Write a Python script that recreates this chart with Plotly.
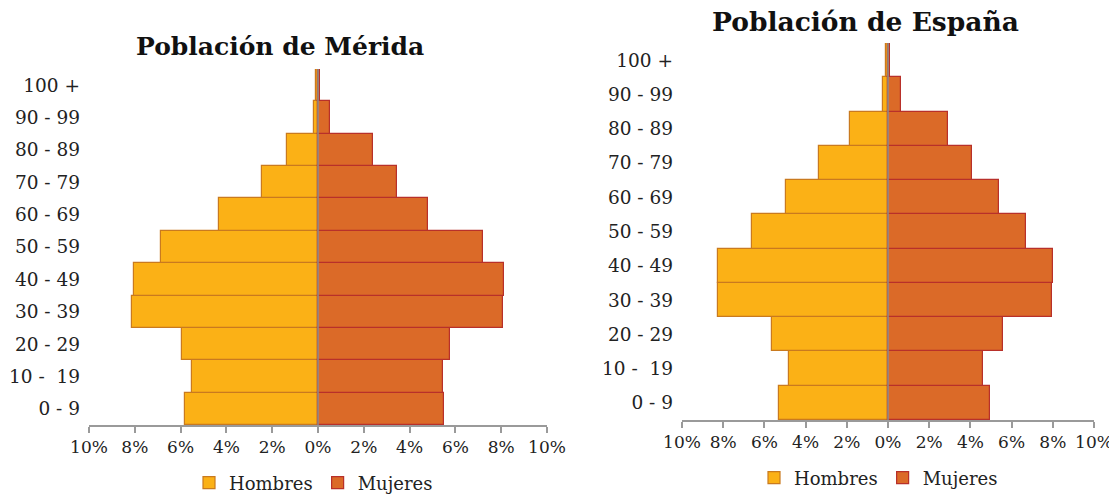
import plotly.graph_objects as go

# ---- data ----
age_groups = ["0 - 9", "10 -  19", "20 - 29", "30 - 39", "40 - 49", "50 - 59",
              "60 - 69", "70 - 79", "80 - 89", "90 - 99", "100 +"]

merida_hombres = [5.82, 5.51, 5.96, 8.12, 8.04, 6.84, 4.32, 2.46, 1.34, 0.16, 0.07]
merida_mujeres = [5.52, 5.46, 5.75, 8.06, 8.13, 7.19, 4.79, 3.44, 2.40, 0.53, 0.09]

espana_hombres = [5.27, 4.82, 5.62, 8.27, 8.26, 6.59, 4.93, 3.35, 1.84, 0.26, 0.08]
espana_mujeres = [4.96, 4.60, 5.57, 7.96, 8.03, 6.71, 5.38, 4.08, 2.91, 0.62, 0.10]

tick_values = [-10, -8, -6, -4, -2, 0, 2, 4, 6, 8, 10]
tick_labels = ["10%", "8%", "6%", "4%", "2%", "0%", "2%", "4%", "6%", "8%", "10%"]

titles = ["Población de Mérida", "Población de España"]
series_names = ["Hombres", "Mujeres"]

# ---- styles ----
# the page body adds an 8px margin, so the figure is drawn 8px smaller and
# all target pixel positions are shifted by that offset
OFF = 8
W, H = 1117 - OFF, 497 - OFF
H_FILL, H_LINE = "#FBB116", "#C97A1F"
M_FILL, M_LINE = "#DB6A28", "#B8302A"
FONT = "DejaVu Serif"

def px_x(p):
    return (p - OFF) / W

def px_y(p):
    return 1 - (p - OFF) / H

fig = go.Figure()

panels = [
    dict(h=merida_hombres, m=merida_mujeres, xa="x", ya="y", leg="legend",
         xdom=[px_x(89), px_x(547)], ydom=[px_y(425), px_y(69)]),
    dict(h=espana_hombres, m=espana_mujeres, xa="x2", ya="y2", leg="legend2",
         xdom=[px_x(682), px_x(1094)], ydom=[px_y(420), px_y(43)]),
]

shapes = []
for p in panels:
    fig.add_trace(go.Bar(
        y=age_groups, x=[-v for v in p["h"]], orientation="h", name=series_names[0],
        marker=dict(color=H_FILL, line=dict(color=H_LINE, width=1.2)),
        xaxis=p["xa"], yaxis=p["ya"], legend=p["leg"],
        hovertemplate="%{y}: %{customdata}%<extra>Hombres</extra>",
        customdata=p["h"],
    ))
    fig.add_trace(go.Bar(
        y=age_groups, x=p["m"], orientation="h", name=series_names[1],
        marker=dict(color=M_FILL, line=dict(color=M_LINE, width=1.2)),
        xaxis=p["xa"], yaxis=p["ya"], legend=p["leg"],
        hovertemplate="%{y}: %{x}%<extra>Mujeres</extra>",
    ))
    # central divider line drawn above the bars
    shapes.append(dict(type="line", xref=p["xa"], yref=p["ya"] + " domain",
                       x0=0, x1=0, y0=0, y1=1, layer="above",
                       line=dict(color="#8C8C8C", width=1.5)))

axis_x = dict(
    range=[-10, 10], tickvals=tick_values, ticktext=tick_labels,
    showgrid=False, zeroline=False,
    showline=True, linecolor="#9A9A9A", linewidth=1.5,
    ticks="outside", ticklen=6, tickcolor="#9A9A9A", tickwidth=1.5,
    tickfont=dict(family=FONT, size=17, color="#222222"),
    fixedrange=True, automargin=False,
)
axis_y = dict(
    type="category", categoryorder="array", categoryarray=age_groups,
    showgrid=False, zeroline=False, showline=False, ticks="",
    tickfont=dict(family=FONT, size=18.5, color="#222222"),
    ticklabelstandoff=8, fixedrange=True, automargin=False,
)

legend_common = dict(orientation="h", xanchor="left", yanchor="middle",
                     font=dict(family=FONT, size=18, color="#222222"), itemwidth=30,
                     traceorder="normal", bgcolor="rgba(0,0,0,0)", tracegroupgap=0)

fig.update_layout(
    width=W, height=H,
    margin=dict(l=0, r=0, t=0, b=0, autoexpand=False),
    paper_bgcolor="white", plot_bgcolor="white",
    barmode="overlay", bargap=0,
    shapes=shapes,
    xaxis=dict(axis_x, domain=panels[0]["xdom"], anchor="y"),
    yaxis=dict(axis_y, domain=panels[0]["ydom"], anchor="x"),
    xaxis2=dict(axis_x, domain=panels[1]["xdom"], anchor="y2"),
    yaxis2=dict(axis_y, domain=panels[1]["ydom"], anchor="x2"),
    legend=dict(legend_common, x=px_x(189), y=px_y(483)),
    legend2=dict(legend_common, x=px_x(754), y=px_y(478)),
    annotations=[
        dict(text="<b>" + titles[0] + "</b>", x=px_x(280), y=px_y(46), xref="paper", yref="paper",
             xanchor="center", yanchor="middle", showarrow=False,
             font=dict(family=FONT, size=25, color="#111111")),
        dict(text="<b>" + titles[1] + "</b>", x=px_x(866), y=px_y(22), xref="paper", yref="paper",
             xanchor="center", yanchor="middle", showarrow=False,
             font=dict(family=FONT, size=26.5, color="#111111")),
    ],
)

fig.write_html("out.html")
